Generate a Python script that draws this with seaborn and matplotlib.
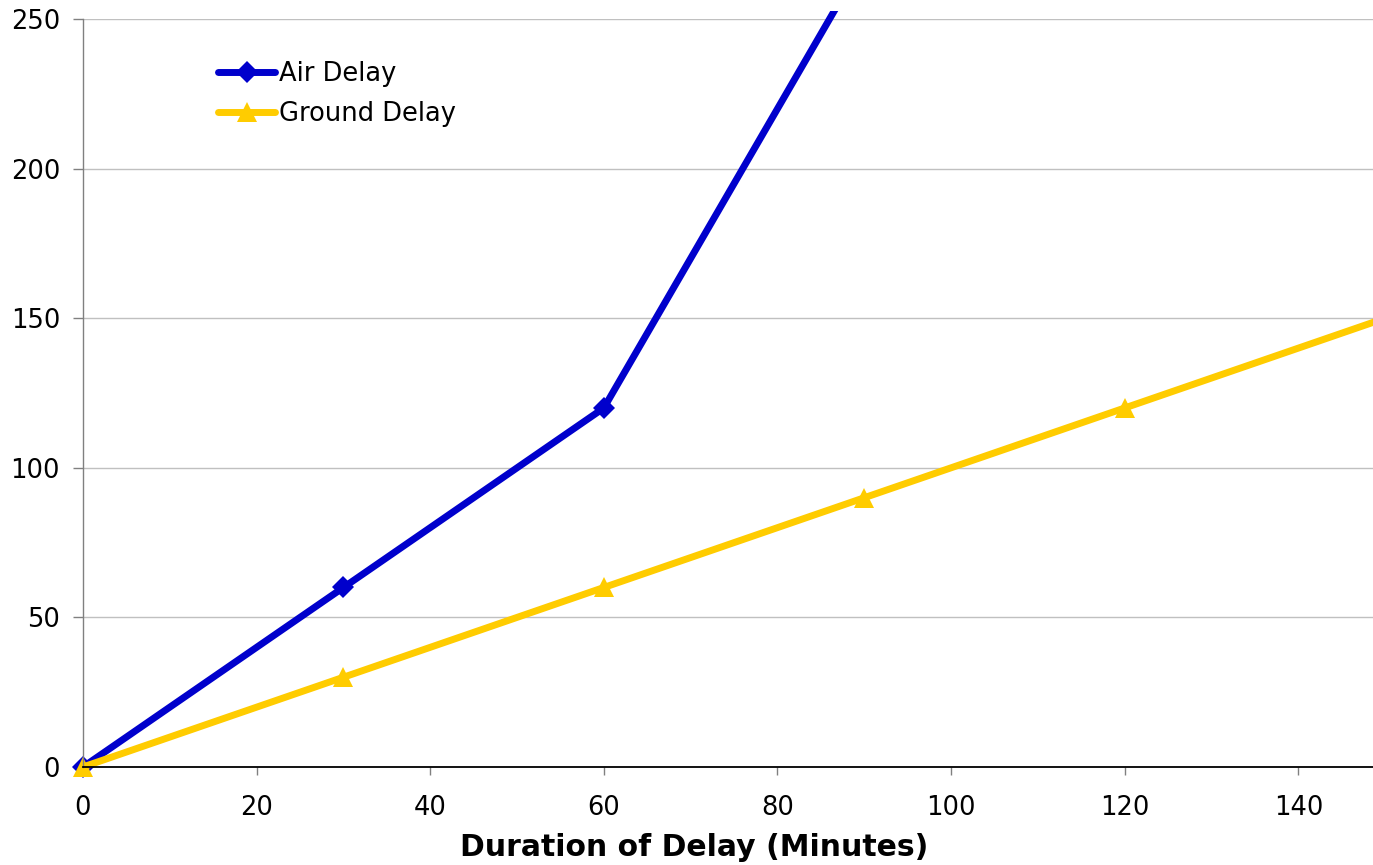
import matplotlib
matplotlib.use("Agg")
import matplotlib.pyplot as plt
import matplotlib.patches as mpatches
import seaborn as sns
import pandas as pd

air_x = [0, 30, 60, 90]
air_y = [0, 60, 120, 270]
ground_x = [0, 30, 60, 90, 120, 150]
ground_y = [0, 30, 60, 90, 120, 150]
series_names = ["Air Delay", "Ground Delay"]
colors = ["#0000CC", "#FFCC00"]
y_ticks = [0, 50, 100, 150, 200, 250]
x_ticks = [0, 20, 40, 60, 80, 100, 120, 140]

df = pd.concat([
    pd.DataFrame({"x": air_x, "y": air_y, "series": series_names[0]}),
    pd.DataFrame({"x": ground_x, "y": ground_y, "series": series_names[1]}),
], ignore_index=True)

sns.set_style("white")
plt.rcParams["font.family"] = ["DejaVu Sans"]
plt.rcParams["text.color"] = "black"
plt.rcParams["axes.labelcolor"] = "black"

fig = plt.figure(figsize=(13.73, 8.65), dpi=100)
ax = fig.add_axes([83 / 1373, 1 - 767 / 865, 1 - 83 / 1373, (767 - 19) / 865])

sns.lineplot(data=df, x="x", y="y", hue="series", style="series",
             palette=dict(zip(series_names, colors)),
             markers={series_names[0]: "D", series_names[1]: "^"},
             dashes=False, sort=False, linewidth=5, markersize=11,
             markeredgewidth=0, ax=ax)

clip = mpatches.Rectangle((-0.02, -0.02), 1.05, 1.031, transform=ax.transAxes,
                          facecolor="none", edgecolor="none")
ax.add_patch(clip)
for ln in ax.lines:
    ln.set_clip_path(clip)
    if ln.get_marker() == "^":
        ln.set_markersize(14)

ax.set_xlim(0, 148.6)
ax.set_ylim(0, 250)
ax.set_xticks(x_ticks)
ax.set_yticks(y_ticks)
ax.grid(axis="y", color="#C0C0C0", linewidth=1)
ax.grid(axis="x", visible=False)
ax.set_axisbelow(True)
for s in ["top", "right"]:
    ax.spines[s].set_visible(False)
ax.spines["left"].set_color("#808080")
ax.spines["left"].set_linewidth(1)
ax.spines["bottom"].set_color("black")
ax.spines["bottom"].set_linewidth(1.3)
ax.tick_params(axis="x", direction="out", length=6, width=1, labelsize=18.5, pad=14,
               colors="#808080", labelcolor="black", bottom=True)
ax.tick_params(axis="y", direction="out", length=7, width=1, labelsize=18.5, pad=9.5,
               colors="#808080", labelcolor="black", left=True)
ax.set_xlabel("Duration of Delay (Minutes)", fontsize=21.5, fontweight="bold")
ax.xaxis.set_label_coords((694 - 83) / 1290, -80 / 748, transform=ax.transAxes)
ax.xaxis.label.set_va("center")
ax.set_ylabel("")

handles, labels = ax.get_legend_handles_labels()
leg = ax.legend(handles, labels, loc="upper left", bbox_to_anchor=(0.087, 0.975),
                frameon=False, fontsize=18.5, handlelength=2.2, handletextpad=0.15,
                labelspacing=0.55)
for h in leg.legend_handles:
    h.set_linewidth(5)
    if h.get_marker() == "^":
        h.set_markersize(14)

fig.savefig("out.png", dpi=100)
